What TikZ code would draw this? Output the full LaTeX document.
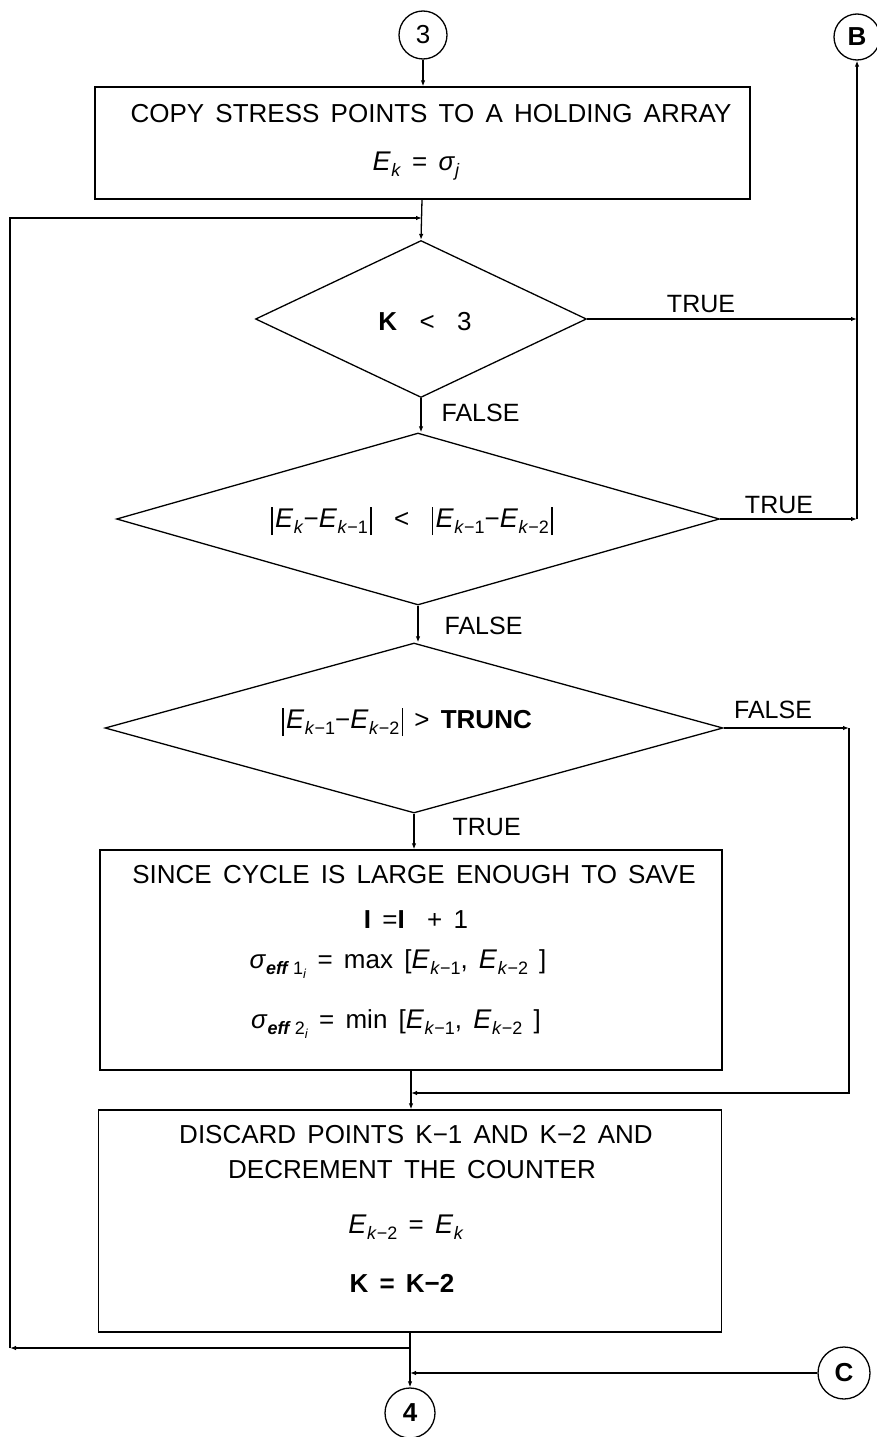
\documentclass[tikz,border=0pt]{standalone}
\usepackage{fontspec}
\setmainfont{Liberation Sans}[WordSpace=1.55]
\usetikzlibrary{arrows.meta,shapes.geometric}
\newcommand\sbs[1]{\raisebox{-6pt}{\fontsize{18}{18}\selectfont #1}}
\newcommand\Esub[1]{{\fontsize{27}{30}\selectfont\textit{E}}\kern0.5pt\sbs{\textit{#1}}}
\newcommand\absL{\rule[-8pt]{1.4pt}{28pt}\kern2.5pt}
\newcommand\absR{\kern2.5pt\rule[-8pt]{1.4pt}{28pt}}
\newcommand\ssub[1]{\raisebox{-4pt}{\fontsize{13}{13}\selectfont\textit{#1}}}
\begin{document}
\begin{tikzpicture}[x=1pt,y=-1pt,
  line width=1.3pt,
  arr/.style={-{Latex[length=6pt,width=4.5pt]}},
  box/.style={draw, rectangle, inner sep=0pt},
  dia/.style={draw, diamond, inner sep=0pt, aspect=2},
  conn/.style={draw, circle, inner sep=0pt, font=\fontsize{26}{30}\selectfont\bfseries},
  txt/.style={inner sep=0pt, font=\fontsize{26}{30}\selectfont},
  lbl/.style={inner sep=0pt, font=\fontsize{25}{30}\selectfont}]
\useasboundingbox (0,0) rectangle (877,1437);
\fill[white] (0,0) rectangle (877,1437);

% connectors (circles)
\node[conn, minimum size=48pt, font=\fontsize{26}{30}\selectfont] (c3) at (423,35) {3};
\node[conn, minimum size=46pt] (cB) at (857,37) {B};
\node[conn, minimum size=52pt] (cC) at (844,1373) {C};
\node[conn, minimum size=50pt] (c4) at (410,1413) {4};

% boxes
\node[box, minimum width=655pt, minimum height=112pt] (b1) at (422.5,143) {};
\node[box, minimum width=622pt, minimum height=220pt] (b2) at (411,960) {};
\node[box, minimum width=623pt, minimum height=222pt] (b3) at (410,1221) {};

% diamonds
\node[dia, minimum width=331pt, minimum height=157pt] (d1) at (421,319) {};
\node[dia, minimum width=603pt, minimum height=172pt] (d2) at (418,519) {};
\node[dia, minimum width=618pt, minimum height=170pt] (d3) at (414,728) {};

% box texts
\node[txt, anchor=base] (t1a) at (431,122) {COPY STRESS POINTS TO A HOLDING ARRAY};
\node[txt, anchor=base] (t1b) at (416,170) {\Esub{k} = \textit{σ}\sbs{\textit{j}}};

\node[txt, anchor=base] (t2a) at (414,883) {SINCE CYCLE IS LARGE ENOUGH TO SAVE};
\node[txt, anchor=base] (t2b) at (416,928) {\textbf{I} =\textbf{I}\ \ + 1};
\node[txt, anchor=base] (t2c) at (398,968) {\textit{σ}\sbs{\textbf{\textit{eff}}\kern4pt1\ssub{i}} = max [\Esub{k\textup{−1}}, \Esub{k\textup{−2}} ]};
\node[txt, anchor=base] (t2d) at (396,1028) {\textit{σ}\sbs{\textbf{\textit{eff}}\kern4pt2\ssub{i}} = min [\Esub{k\textup{−1}}, \Esub{k\textup{−2}} ]};

\node[txt, anchor=base] (t3a) at (416,1143) {DISCARD POINTS K−1 AND K−2 AND};
\node[txt, anchor=base] (t3b) at (412,1178) {DECREMENT THE COUNTER};
\node[txt, anchor=base] (t3c) at (406,1233) {\Esub{k\textup{−2}} = \Esub{k}};
\node[txt, anchor=base] (t3d) at (402,1292) {\textbf{K = K−2}};

% diamond texts
\node[txt, anchor=base] (k1) at (425,330) {\textbf{K}\ \ <\ \ 3};
\node[txt, anchor=base] (k2) at (412,527) {\absL\Esub{k}−\Esub{k\textup{−1}}\absR\ \ <\ \ \absL\Esub{k\textup{−1}}−\Esub{k\textup{−2}}\absR};
\node[txt, anchor=base] (k3) at (407,728) {\absL\Esub{k\textup{−1}}−\Esub{k\textup{−2}}\absR\ > \textbf{TRUNC}};

% branch labels
\node[lbl, anchor=base] (lt1) at (701,312) {TRUE};
\node[lbl, anchor=base west] (lf1) at (441,421) {FALSE};
\node[lbl, anchor=base] (lt2) at (779,513) {TRUE};
\node[lbl, anchor=base west] (lf2) at (444,634) {FALSE};
\node[lbl, anchor=base] (lf3) at (773,718) {FALSE};
\node[lbl, anchor=base west] (lt3) at (452,835) {TRUE};

% coordinates
\coordinate (J1) at (422,218);
\coordinate (R1) at (857,319);
\coordinate (R2) at (857,519);
\coordinate (R3) at (849,728);
\coordinate (J2) at (411,1093);
\coordinate (J3) at (410,1348);
\coordinate (J4) at (410,1373);
\coordinate (L1) at (10,1348);

% flow lines
\draw[arr] (c3.south) -- (c3.south |- b1.north);
\draw[arr] (b1.south -| J1) -- (d1.north);
\draw[arr] (L1) |- (J1);
\draw[arr] (d1.east) -- (R1);
\draw[arr] (d2.east) -- (R2);
\draw[arr] (R2) -- (cB.south);
\draw[arr] (d1.south) -- (d1.south |- d2.north);
\draw[arr] (d2.south) -- (d2.south |- d3.north);
\draw[arr] (d3.south) -- (d3.south |- b2.north);
\draw[arr] (d3.east) -- (R3);
\draw[arr] (R3) |- (J2);
\draw[arr] (b2.south) -- (b2.south |- b3.north);
\draw (b3.south) -- (J3);
\draw[arr] (J3) -- (L1);
\draw[arr] (cC.west) -- (J4);
\draw[arr] (J3) -- (c4.north);
\end{tikzpicture}
\end{document}
